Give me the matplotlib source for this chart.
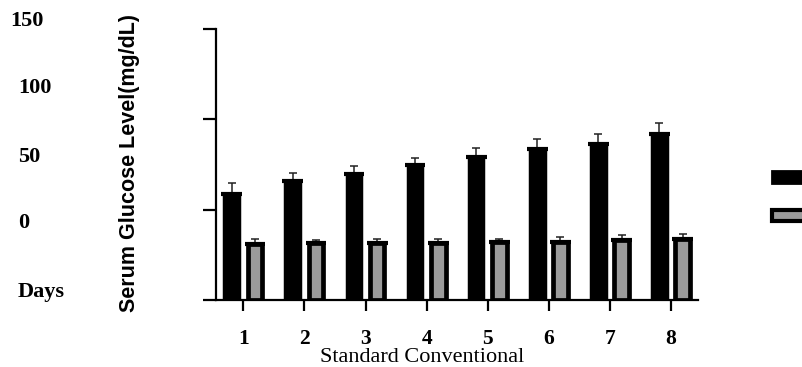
import numpy as np
import matplotlib.pyplot as plt

days = [1, 2, 3, 4, 5, 6, 7, 8]
standard = [58.7, 65.7, 70.0, 74.6, 79.1, 83.7, 86.5, 91.7]
standard_err = [6.0, 4.7, 4.0, 4.1, 4.9, 5.3, 5.5, 6.3]
conventional = [31.0, 31.3, 31.8, 31.8, 32.2, 32.2, 33.3, 33.7]
conventional_err = [2.7, 1.8, 1.9, 1.9, 1.8, 2.8, 2.7, 3.1]
side_labels = ["150", "100", "50", "0", "Days"]

plt.rcParams["font.family"] = ["Liberation Serif", "DejaVu Serif"]

fig = plt.figure(figsize=(8.02, 3.67), dpi=100)
ax = fig.add_axes([216 / 802, 1 - 300 / 367, (698 - 216) / 802, (300 - 29) / 367])

x = np.array(days)
w = 0.24
off = 0.19

ax.bar(x - off, standard, w, color="black", edgecolor="black", linewidth=2.5, zorder=2)
ax.bar(x + off, conventional, w, color="#9b9b9b", edgecolor="black", linewidth=3.4, zorder=2)
# thick caps on top of each bar
ax.hlines(standard, x - off - w / 2 - 0.05, x - off + w / 2 + 0.05, color="black", linewidth=3, zorder=3)
ax.hlines(conventional, x + off - w / 2 - 0.05, x + off + w / 2 + 0.05, color="black", linewidth=3, zorder=3)
ax.errorbar(x - off, standard, yerr=[np.zeros(8), standard_err], fmt="none",
            ecolor="#222222", elinewidth=1.1, capsize=3, capthick=1.1, zorder=1)
ax.errorbar(x + off, conventional, yerr=[np.zeros(8), conventional_err], fmt="none",
            ecolor="#222222", elinewidth=1.1, capsize=3, capthick=1.1, zorder=1)

ax.set_xlim(0.553, 8.44)
ax.set_ylim(0, 150)
ax.set_yticks([0, 50, 100, 150])
ax.set_yticklabels([])
ax.set_xticks(days)
ax.set_xticklabels([str(d) for d in days], fontsize=15.5, fontweight="bold")
ax.tick_params(axis="y", length=9.5, width=1.6)
ax.tick_params(axis="x", length=8, width=1.6, pad=13)
for s in ["top", "right"]:
    ax.spines[s].set_visible(False)
for s in ["left", "bottom"]:
    ax.spines[s].set_linewidth(1.6)

fig.text(422 / 802, 1 - 358 / 367, "Standard Conventional", ha="center", va="center", fontsize=16)
fig.text(130 / 802, 1 - 163 / 367, "Serum Glucose Level(mg/dL)", rotation=90, ha="center", va="center",
         fontsize=15.5, fontweight="bold", family=["Liberation Sans", "DejaVu Sans"])

side_pos = [(10, 21), (18, 88), (18, 157), (18, 223), (18, 292)]
for lab, (px, py) in zip(side_labels, side_pos):
    fig.text(px / 802, 1 - py / 367, lab, ha="left", va="center", fontsize=16, fontweight="bold")

# legend handles sitting at the right edge
fig.patches.append(plt.Rectangle((772 / 802, 1 - 183 / 367), 40 / 802, 12 / 367, transform=fig.transFigure,
                                 facecolor="black", edgecolor="black", linewidth=2))
fig.patches.append(plt.Rectangle((772 / 802, 1 - 221 / 367), 40 / 802, 11 / 367, transform=fig.transFigure,
                                 facecolor="#9b9b9b", edgecolor="black", linewidth=3))

fig.savefig("out.png", dpi=100)
